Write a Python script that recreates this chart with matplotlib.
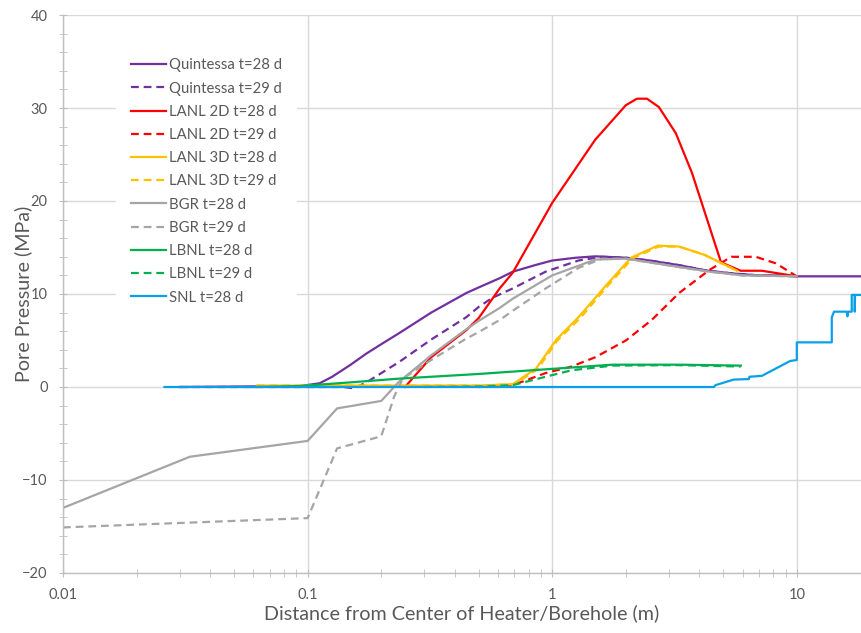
import matplotlib
matplotlib.use("Agg")
import matplotlib.pyplot as plt
from matplotlib.ticker import MultipleLocator, LogLocator, FixedLocator, NullFormatter

plt.rcParams['font.family'] = ['Lato', 'DejaVu Sans']

TEXT = '#595959'
GRID = '#D9D9D9'
AXIS = '#BFBFBF'

# Quintessa
q28_x = [0.03, 0.093, 0.112, 0.126, 0.15, 0.174, 0.2, 0.237, 0.32, 0.445, 0.5, 0.61, 0.69, 0.85,
         1.0, 1.25, 1.5, 2.0, 2.5, 3.3, 4.3, 5.5, 7.0, 8.5, 10.0, 18.3]
q28_y = [0.0, 0.1, 0.4, 1.1, 2.4, 3.6, 4.6, 5.8, 8.0, 10.1, 10.7, 11.7, 12.4, 13.1,
         13.6, 13.9, 14.05, 13.9, 13.6, 13.1, 12.5, 12.2, 12.0, 12.0, 11.9, 11.9]
q29_x = [0.03, 0.14, 0.155, 0.174, 0.237, 0.32, 0.445, 0.5, 0.57, 0.69, 0.94, 1.28, 1.6,
         2.0, 2.5, 3.3, 4.3, 5.5, 7.0, 8.5, 10.0]
q29_y = [0.0, 0.0, -0.15, 0.5, 2.7, 5.1, 7.5, 8.6, 9.6, 10.6, 12.4, 13.6, 14.0,
         13.9, 13.6, 13.1, 12.5, 12.2, 12.0, 12.0, 11.9]

# LANL 2D
l2_28_x = [0.25, 0.254, 0.32, 0.445, 0.5, 0.61, 0.69, 1.0, 1.5, 2.0, 2.22, 2.44, 2.73, 3.2,
           3.73, 4.9, 5.9, 7.2, 10.0]
l2_28_y = [0.0, 0.2, 3.2, 6.1, 7.4, 10.6, 12.3, 19.8, 26.6, 30.3, 31.0, 31.0, 30.1, 27.3,
           23.0, 13.4, 12.5, 12.5, 11.9]
l2_29_x = [0.5, 0.69, 0.94, 1.2, 1.5, 2.0, 2.55, 3.3, 4.4, 5.4, 6.8, 8.2, 10.0]
l2_29_y = [0.0, 0.2, 1.5, 2.2, 3.2, 5.0, 7.2, 10.1, 12.6, 14.0, 14.0, 13.3, 11.9]

# LANL 3D
l3_28_x = [0.062, 0.5, 0.69, 0.86, 1.04, 1.28, 1.67, 2.1, 2.7, 3.3, 4.2, 5.4, 5.7]
l3_28_y = [0.15, 0.15, 0.3, 2.0, 5.1, 7.5, 11.0, 13.9, 15.2, 15.1, 14.2, 12.8, 12.5]
l3_29_x = [0.062, 0.5, 0.70, 0.87, 1.05, 1.3, 1.69, 2.12, 2.72, 3.3, 4.2, 5.4, 5.7]
l3_29_y = [0.15, 0.15, 0.3, 1.9, 5.0, 7.4, 10.9, 13.8, 15.1, 15.1, 14.2, 12.8, 12.5]

# BGR
bgr28_x = [0.01, 0.033, 0.1, 0.132, 0.2, 0.235, 0.32, 0.445, 0.5, 0.61, 0.69, 1.0, 1.5, 2.0,
           3.3, 4.4, 6.0, 10.0]
bgr28_y = [-13.0, -7.5, -5.8, -2.3, -1.5, 0.5, 3.4, 6.2, 7.1, 8.5, 9.5, 12.0, 13.7, 13.8,
           12.9, 12.4, 12.0, 11.9]
bgr29_x = [0.01, 0.1, 0.132, 0.2, 0.226, 0.245, 0.32, 0.445, 0.5, 0.61, 0.69, 0.94, 1.28, 1.6,
           2.0, 3.3, 4.4, 6.0, 10.0]
bgr29_y = [-15.1, -14.1, -6.6, -5.3, -1.0, 0.9, 2.9, 5.2, 5.9, 7.2, 8.2, 10.6, 12.8, 13.8,
           13.8, 12.9, 12.4, 12.0, 11.9]

# LBNL
lb28_x = [0.06, 0.093, 0.15, 0.237, 0.5, 0.94, 1.76, 3.3, 5.9]
lb28_y = [0.0, 0.1, 0.5, 0.9, 1.4, 1.9, 2.4, 2.4, 2.3]
lb29_x = [0.3, 0.5, 0.69, 0.94, 1.2, 1.76, 3.3, 5.9]
lb29_y = [0.0, 0.05, 0.2, 1.1, 1.8, 2.3, 2.35, 2.2]

# SNL
snl_x = [0.026, 4.58, 4.65, 5.53, 6.37, 6.4, 7.2, 9.4, 10.0, 10.0, 13.9, 13.9, 14.2, 16.0, 16.1,
         16.2, 16.77, 16.77, 17.25, 17.25, 17.3, 18.3]
snl_y = [0.0, 0.0, 0.2, 0.8, 0.85, 1.1, 1.2, 2.8, 2.9, 4.8, 4.8, 7.5, 8.1, 8.1, 7.6,
         8.1, 8.1, 9.9, 9.9, 8.1, 9.9, 9.9]

series = [
    ("Quintessa t=28 d", q28_x, q28_y, '#7030A0', '-'),
    ("Quintessa t=29 d", q29_x, q29_y, '#7030A0', '--'),
    ("LANL 2D t=28 d", l2_28_x, l2_28_y, '#FF0000', '-'),
    ("LANL 2D t=29 d", l2_29_x, l2_29_y, '#FF0000', '--'),
    ("LANL 3D t=28 d", l3_28_x, l3_28_y, '#FFC000', '-'),
    ("LANL 3D t=29 d", l3_29_x, l3_29_y, '#FFC000', '--'),
    ("BGR t=28 d", bgr28_x, bgr28_y, '#A5A5A5', '-'),
    ("BGR t=29 d", bgr29_x, bgr29_y, '#A5A5A5', '--'),
    ("LBNL t=28 d", lb28_x, lb28_y, '#00B050', '-'),
    ("LBNL t=29 d", lb29_x, lb29_y, '#00B050', '--'),
    ("SNL t=28 d", snl_x, snl_y, '#0AA0E8', '-'),
]

fig = plt.figure(figsize=(8.61, 6.33), dpi=100)
ax = fig.add_axes([0.0732, 0.0948, 0.9268, 0.8815])

for label, xs, ys, color, ls in series:
    line, = ax.plot(xs, ys, color=color, lw=1.6, label=label)
    if ls == '--':
        line.set_dashes((3.5, 2.2))

ax.set_xscale('log')
ax.set_xlim(0.01, 18.3)
ax.set_ylim(-20, 40)

ax.xaxis.set_major_locator(FixedLocator([0.01, 0.1, 1, 10]))
ax.set_xticklabels(['0.01', '0.1', '1', '10'])
ax.xaxis.set_minor_locator(LogLocator(base=10, subs=range(2, 10)))
ax.xaxis.set_minor_formatter(NullFormatter())
ax.yaxis.set_major_locator(MultipleLocator(10))
ax.yaxis.set_minor_locator(MultipleLocator(2))

ax.grid(True, which='major', color=GRID, lw=1)
ax.set_axisbelow(True)
for s in ['top', 'right']:
    ax.spines[s].set_visible(False)
for s in ['left', 'bottom']:
    ax.spines[s].set_color(AXIS)
    ax.spines[s].set_linewidth(1)

ax.tick_params(which='both', direction='inout', color=AXIS, labelcolor=TEXT, labelsize=10.5)
ax.tick_params(axis='y', which='major', length=6, pad=8)
ax.tick_params(axis='y', which='minor', length=6)
ax.tick_params(axis='x', which='major', length=6, pad=8)
ax.tick_params(axis='x', which='minor', length=6)

ax.set_xlabel("Distance from Center of Heater/Borehole (m)", color=TEXT, fontsize=14.2, labelpad=1.5)
ax.set_ylabel("Pore Pressure (MPa)", color=TEXT, fontsize=14.2)
ax.yaxis.set_label_coords(-0.039, 0.5)

leg = ax.legend(loc='upper left', bbox_to_anchor=(0.126, 0.943), bbox_transform=fig.transFigure,
                fontsize=10.7, handlelength=2.36, handletextpad=0.2, labelspacing=0.62,
                frameon=True, facecolor='white', edgecolor='none', framealpha=1,
                borderpad=1.0, fancybox=False)
for t in leg.get_texts():
    t.set_color(TEXT)

fig.savefig("out.png", dpi=100)
